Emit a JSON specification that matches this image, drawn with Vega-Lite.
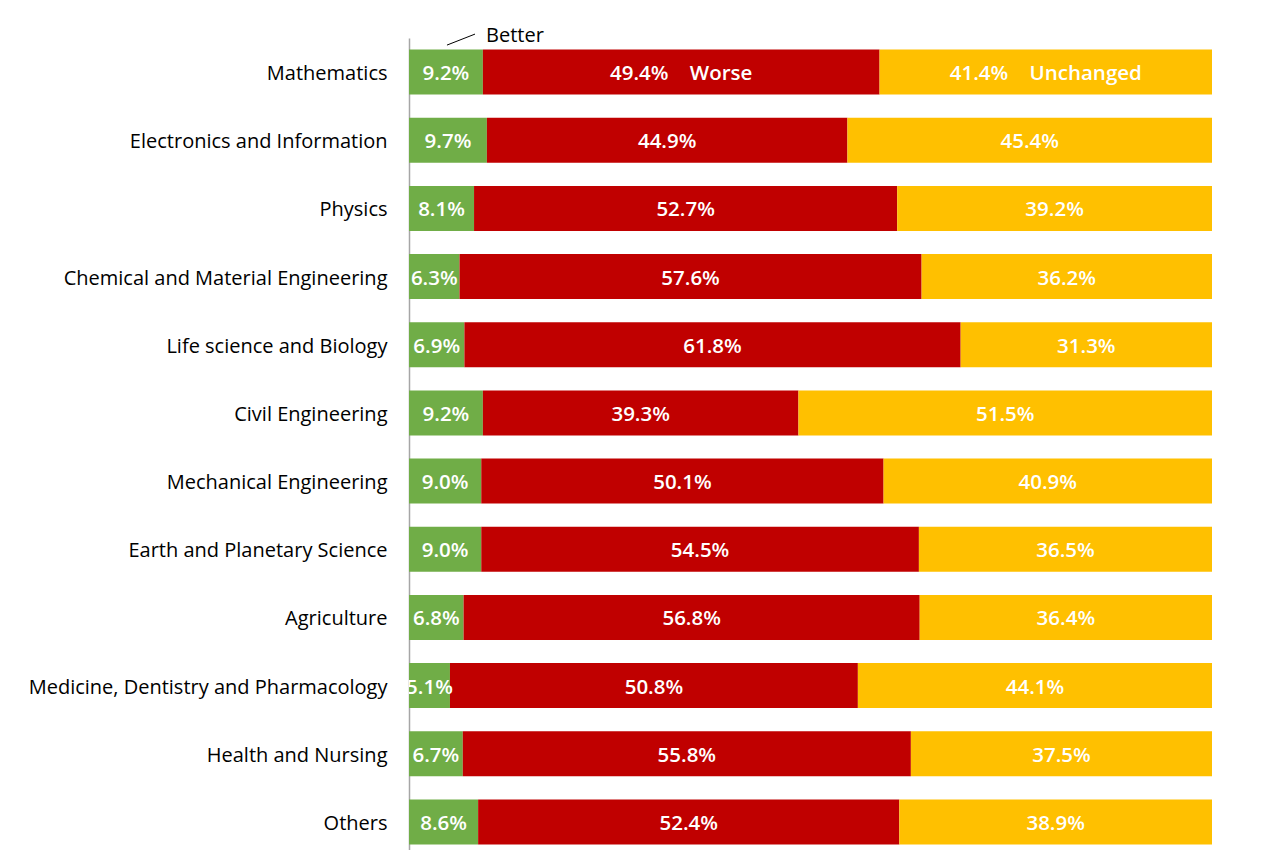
{
  "$schema": "https://vega.github.io/schema/vega-lite/v6.json",
  "autosize": "none",
  "width": 803,
  "height": 818,
  "padding": {"left": 409, "top": 38, "right": 56, "bottom": 0},
  "background": "white",
  "config": {"view": {"stroke": null}, "font": "Open Sans"},
  "data": {"values": [
    {"field": "Mathematics", "status": "Better", "ord": 1, "pct": 9.2, "label": "9.2%"},
    {"field": "Mathematics", "status": "Worse", "ord": 2, "pct": 49.4, "label": "49.4%\u00a0\u00a0\u00a0\u00a0Worse"},
    {"field": "Mathematics", "status": "Unchanged", "ord": 3, "pct": 41.4, "label": "41.4%\u00a0\u00a0\u00a0\u00a0Unchanged"},
    {"field": "Electronics and Information", "status": "Better", "ord": 1, "pct": 9.7, "label": "9.7%"},
    {"field": "Electronics and Information", "status": "Worse", "ord": 2, "pct": 44.9, "label": "44.9%"},
    {"field": "Electronics and Information", "status": "Unchanged", "ord": 3, "pct": 45.4, "label": "45.4%"},
    {"field": "Physics", "status": "Better", "ord": 1, "pct": 8.1, "label": "8.1%"},
    {"field": "Physics", "status": "Worse", "ord": 2, "pct": 52.7, "label": "52.7%"},
    {"field": "Physics", "status": "Unchanged", "ord": 3, "pct": 39.2, "label": "39.2%"},
    {"field": "Chemical and Material Engineering", "status": "Better", "ord": 1, "pct": 6.3, "label": "6.3%"},
    {"field": "Chemical and Material Engineering", "status": "Worse", "ord": 2, "pct": 57.6, "label": "57.6%"},
    {"field": "Chemical and Material Engineering", "status": "Unchanged", "ord": 3, "pct": 36.2, "label": "36.2%"},
    {"field": "Life science and Biology", "status": "Better", "ord": 1, "pct": 6.9, "label": "6.9%"},
    {"field": "Life science and Biology", "status": "Worse", "ord": 2, "pct": 61.8, "label": "61.8%"},
    {"field": "Life science and Biology", "status": "Unchanged", "ord": 3, "pct": 31.3, "label": "31.3%"},
    {"field": "Civil Engineering", "status": "Better", "ord": 1, "pct": 9.2, "label": "9.2%"},
    {"field": "Civil Engineering", "status": "Worse", "ord": 2, "pct": 39.3, "label": "39.3%"},
    {"field": "Civil Engineering", "status": "Unchanged", "ord": 3, "pct": 51.5, "label": "51.5%"},
    {"field": "Mechanical Engineering", "status": "Better", "ord": 1, "pct": 9.0, "label": "9.0%"},
    {"field": "Mechanical Engineering", "status": "Worse", "ord": 2, "pct": 50.1, "label": "50.1%"},
    {"field": "Mechanical Engineering", "status": "Unchanged", "ord": 3, "pct": 40.9, "label": "40.9%"},
    {"field": "Earth and Planetary Science", "status": "Better", "ord": 1, "pct": 9.0, "label": "9.0%"},
    {"field": "Earth and Planetary Science", "status": "Worse", "ord": 2, "pct": 54.5, "label": "54.5%"},
    {"field": "Earth and Planetary Science", "status": "Unchanged", "ord": 3, "pct": 36.5, "label": "36.5%"},
    {"field": "Agriculture", "status": "Better", "ord": 1, "pct": 6.8, "label": "6.8%"},
    {"field": "Agriculture", "status": "Worse", "ord": 2, "pct": 56.8, "label": "56.8%"},
    {"field": "Agriculture", "status": "Unchanged", "ord": 3, "pct": 36.4, "label": "36.4%"},
    {"field": "Medicine, Dentistry and Pharmacology", "status": "Better", "ord": 1, "pct": 5.1, "label": "5.1%"},
    {"field": "Medicine, Dentistry and Pharmacology", "status": "Worse", "ord": 2, "pct": 50.8, "label": "50.8%"},
    {"field": "Medicine, Dentistry and Pharmacology", "status": "Unchanged", "ord": 3, "pct": 44.1, "label": "44.1%"},
    {"field": "Health and Nursing", "status": "Better", "ord": 1, "pct": 6.7, "label": "6.7%"},
    {"field": "Health and Nursing", "status": "Worse", "ord": 2, "pct": 55.8, "label": "55.8%"},
    {"field": "Health and Nursing", "status": "Unchanged", "ord": 3, "pct": 37.5, "label": "37.5%"},
    {"field": "Others", "status": "Better", "ord": 1, "pct": 8.6, "label": "8.6%"},
    {"field": "Others", "status": "Worse", "ord": 2, "pct": 52.4, "label": "52.4%"},
    {"field": "Others", "status": "Unchanged", "ord": 3, "pct": 38.9, "label": "38.9%"}
  ]},
  "encoding": {
    "y": {
      "field": "field", "type": "nominal", "sort": null,
      "scale": {"paddingInner": 0.34, "paddingOuter": 0.17},
      "axis": {
        "title": null, "ticks": false, "domainColor": "#a6a6a6", "domainWidth": 1.5,
        "labelFont": "Open Sans", "labelFontSize": 20, "labelColor": "#000000",
        "labelPadding": 22, "labelLimit": 500, "labelOffset": 2
      }
    }
  },
  "layer": [
    {
      "mark": {"type": "bar"},
      "encoding": {
        "x": {"field": "pct", "type": "quantitative", "stack": "normalize", "axis": null, "scale": {"domain": [0, 1]}},
        "color": {
          "field": "status", "type": "nominal",
          "scale": {"domain": ["Better", "Worse", "Unchanged"], "range": ["#70AD47", "#C00000", "#FFC000"]},
          "legend": null
        },
        "order": {"field": "ord", "type": "quantitative"}
      }
    },
    {
      "mark": {"type": "text", "color": "white", "fontSize": 20.5, "fontWeight": 600, "font": "Open Sans", "align": "center", "baseline": "middle", "clip": true, "dy": 2},
      "encoding": {
        "x": {"field": "pct", "type": "quantitative", "stack": "normalize", "bandPosition": 0.5},
        "text": {"field": "label"},
        "detail": {"field": "status"},
        "order": {"field": "ord", "type": "quantitative"}
      }
    },
    {
      "data": {"values": [{"note": "Better"}]},
      "mark": {"type": "text", "color": "#000000", "fontSize": 20, "fontWeight": "normal", "font": "Open Sans", "align": "left", "baseline": "middle", "yOffset": -36},
      "encoding": {
        "x": {"datum": 0.0959},
        "y": {"datum": "Mathematics"},
        "text": {"field": "note"}
      }
    },
    {
      "data": {"values": [{"note": "Better"}]},
      "mark": {"type": "rule", "color": "#000000", "strokeWidth": 1, "yOffset": -27, "y2Offset": -38},
      "encoding": {
        "x": {"datum": 0.0473},
        "x2": {"datum": 0.0822},
        "y": {"datum": "Mathematics"},
        "y2": {"datum": "Mathematics"}
      }
    }
  ]
}
